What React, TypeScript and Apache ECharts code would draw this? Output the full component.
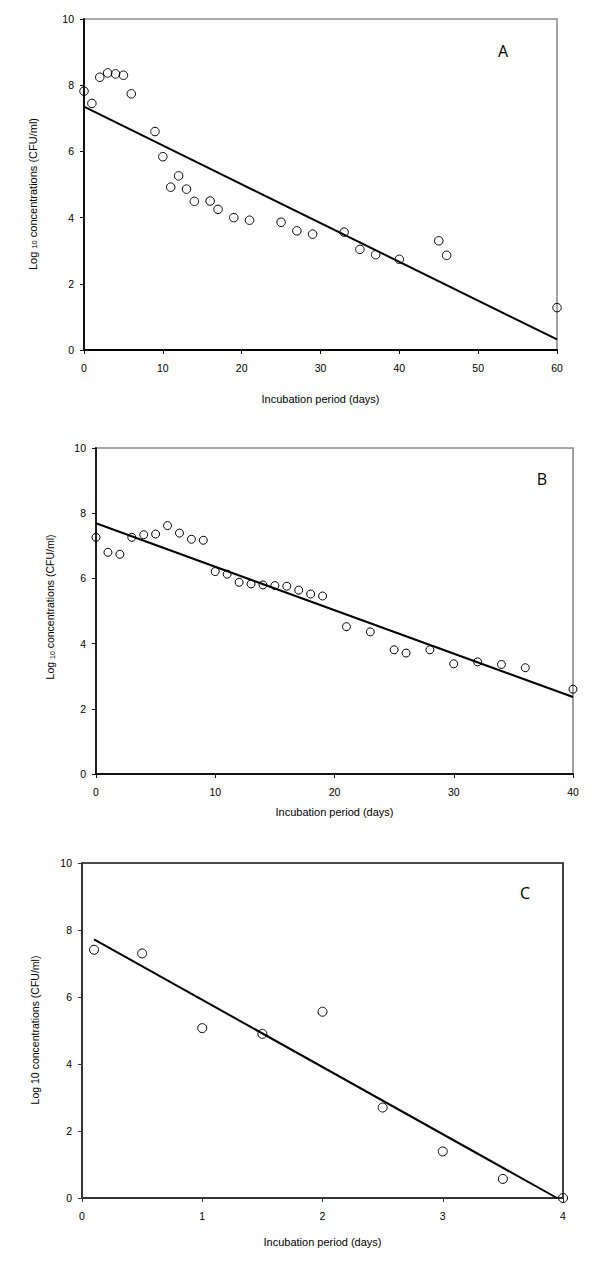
import React, { useEffect, useRef } from "react";
import * as echarts from "echarts";

// Panel A
const A_DAYS = [0, 1, 2, 3, 4, 5, 6, 9, 10, 11, 12, 13, 14, 16, 17, 19, 21, 25, 27, 29, 33, 35, 37, 40, 45, 46, 60];
const A_LOG = [7.82, 7.45, 8.24, 8.37, 8.34, 8.30, 7.74, 6.60, 5.84, 4.92, 5.26, 4.86, 4.49, 4.50, 4.25, 4.00, 3.92, 3.86, 3.60, 3.50, 3.56, 3.04, 2.88, 2.74, 3.30, 2.86, 1.28];
const A_FIT_DAYS = [0, 60];
const A_FIT_LOG = [7.35, 0.32];

// Panel B
const B_DAYS = [0, 1, 2, 3, 4, 5, 6, 7, 8, 9, 10, 11, 12, 13, 14, 15, 16, 17, 18, 19, 21, 23, 25, 26, 28, 30, 32, 34, 36, 40];
const B_LOG = [7.26, 6.80, 6.74, 7.26, 7.34, 7.36, 7.62, 7.39, 7.20, 7.17, 6.21, 6.13, 5.88, 5.83, 5.80, 5.78, 5.76, 5.64, 5.52, 5.46, 4.52, 4.36, 3.81, 3.71, 3.81, 3.38, 3.44, 3.36, 3.26, 2.60];
const B_FIT_DAYS = [0, 40];
const B_FIT_LOG = [7.69, 2.36];

// Panel C
const C_DAYS = [0.1, 0.5, 1, 1.5, 2, 2.5, 3, 3.5, 4];
const C_LOG = [7.41, 7.30, 5.07, 4.90, 5.56, 2.70, 1.39, 0.57, 0];
const C_FIT_DAYS = [0.1, 3.95];
const C_FIT_LOG = [7.72, 0];

// Axis ranges / labels
const Y_RANGE = [0, 10, 2];
const A_X_RANGE = [0, 60, 10];
const B_X_RANGE = [0, 40, 10];
const C_X_RANGE = [0, 4, 1];
const PANEL_LETTERS = ["A", "B", "C"];
const X_TITLE = "Incubation period (days)";

const FONT = "'Liberation Sans', Arial, sans-serif";

const zip = (xs: number[], ys: number[]) => xs.map((x, i) => [x, ys[i]]);

export default function App() {
  const ref = useRef<HTMLDivElement>(null);
  useEffect(() => {
    if (!ref.current) return;
    const chart = echarts.init(ref.current, null, { renderer: "svg" });

    const panels = [
      {
        grid: { left: 84, top: 19, width: 473, height: 331 },
        xr: A_X_RANGE, pts: zip(A_DAYS, A_LOG), fit: zip(A_FIT_DAYS, A_FIT_LOG),
        border: "#8a8a8a", axisColor: "#000", sym: 8.5,
      },
      {
        grid: { left: 96, top: 448, width: 477, height: 326 },
        xr: B_X_RANGE, pts: zip(B_DAYS, B_LOG), fit: zip(B_FIT_DAYS, B_FIT_LOG),
        border: "#8a8a8a", axisColor: "#111", sym: 8,
      },
      {
        grid: { left: 82, top: 863, width: 481, height: 335 },
        xr: C_X_RANGE, pts: zip(C_DAYS, C_LOG), fit: zip(C_FIT_DAYS, C_FIT_LOG),
        border: "#111", axisColor: "#333", sym: 9,
      },
    ];

    const option: any = {
      animation: false,
      backgroundColor: "#fff",
      grid: panels.map((p) => ({
        ...p.grid,
        show: true,
        borderColor: p.border,
        borderWidth: 1.6,
        backgroundColor: "transparent",
        containLabel: false,
      })),
      xAxis: panels.map((p, i) => ({
        type: "value",
        gridIndex: i,
        min: p.xr[0],
        max: p.xr[1],
        interval: p.xr[2],
        axisLine: { show: true, onZero: false, lineStyle: { color: p.axisColor, width: 1.8 } },
        axisTick: { show: true, inside: false, length: 4, lineStyle: { color: p.axisColor, width: 1 } },
        axisLabel: { color: "#000", fontSize: 10.5, fontFamily: FONT, margin: 12 },
        splitLine: { show: false },
      })),
      yAxis: panels.map((p, i) => ({
        type: "value",
        gridIndex: i,
        min: Y_RANGE[0],
        max: Y_RANGE[1],
        interval: Y_RANGE[2],
        axisLine: { show: true, onZero: false, lineStyle: { color: p.axisColor, width: 1.8 } },
        axisTick: { show: true, inside: false, length: 4, lineStyle: { color: p.axisColor, width: 1 } },
        axisLabel: { color: "#000", fontSize: 10.5, fontFamily: FONT, margin: 10 },
        splitLine: { show: false },
      })),
      series: panels.flatMap((p, i) => [
        {
          type: "scatter",
          xAxisIndex: i,
          yAxisIndex: i,
          data: p.pts,
          symbol: "circle",
          symbolSize: p.sym,
          clip: false,
          itemStyle: { color: "rgba(0,0,0,0)", borderColor: "#000", borderWidth: 1, opacity: 1 },
          z: 3,
        },
        {
          type: "line",
          xAxisIndex: i,
          yAxisIndex: i,
          data: p.fit,
          symbol: "none",
          clip: false,
          lineStyle: { color: "#000", width: 2 },
          z: 4,
        },
      ]),
      graphic: [
        // y-axis titles
        {
          type: "text", x: 33, y: 194, rotation: Math.PI / 2,
          style: {
            text: "{a|Log }{s|10}{a| concentrations (CFU/ml)}",
            align: "center", verticalAlign: "middle",
            rich: {
              a: { fontSize: 11, fontFamily: FONT, fill: "#000" },
              s: { fontSize: 7.5, fontFamily: FONT, fill: "#000", verticalAlign: "bottom" },
            },
          },
        },
        {
          type: "text", x: 50, y: 607, rotation: Math.PI / 2,
          style: {
            text: "{a|Log }{s|10}{a| concentrations (CFU/ml)}",
            align: "center", verticalAlign: "middle",
            rich: {
              a: { fontSize: 10.5, fontFamily: FONT, fill: "#000" },
              s: { fontSize: 7, fontFamily: FONT, fill: "#000", verticalAlign: "bottom" },
            },
          },
        },
        {
          type: "text", x: 35, y: 1030, rotation: Math.PI / 2,
          style: {
            text: "Log 10 concentrations (CFU/ml)",
            align: "center", verticalAlign: "middle",
            fontSize: 10.5, fontFamily: FONT, fill: "#000",
          },
        },
        // x-axis titles
        {
          type: "text", x: 320.5, y: 399,
          style: { text: X_TITLE, align: "center", verticalAlign: "middle", fontSize: 11, fontFamily: FONT, fill: "#000" },
        },
        {
          type: "text", x: 334.5, y: 812,
          style: { text: X_TITLE, align: "center", verticalAlign: "middle", fontSize: 11, fontFamily: FONT, fill: "#000" },
        },
        {
          type: "text", x: 322.5, y: 1242,
          style: { text: X_TITLE, align: "center", verticalAlign: "middle", fontSize: 11, fontFamily: FONT, fill: "#000" },
        },
        // panel letters
        {
          type: "text", x: 503, y: 51,
          style: { text: PANEL_LETTERS[0], align: "center", verticalAlign: "middle", fontSize: 16, fontFamily: "'Open Sans', 'DejaVu Sans', sans-serif", fill: "#000" },
        },
        {
          type: "text", x: 542, y: 479,
          style: { text: PANEL_LETTERS[1], align: "center", verticalAlign: "middle", fontSize: 16, fontFamily: "'Open Sans', 'DejaVu Sans', sans-serif", fill: "#000" },
        },
        {
          type: "text", x: 525, y: 893,
          style: { text: PANEL_LETTERS[2], align: "center", verticalAlign: "middle", fontSize: 16, fontFamily: "'Open Sans', 'DejaVu Sans', sans-serif", fill: "#000" },
        },
      ],
    };

    chart.setOption(option);
    return () => chart.dispose();
  }, []);

  return (
    <div
      ref={ref}
      style={{ position: "absolute", left: 0, top: 0, width: 600, height: 1271, background: "#fff" }}
    />
  );
}
